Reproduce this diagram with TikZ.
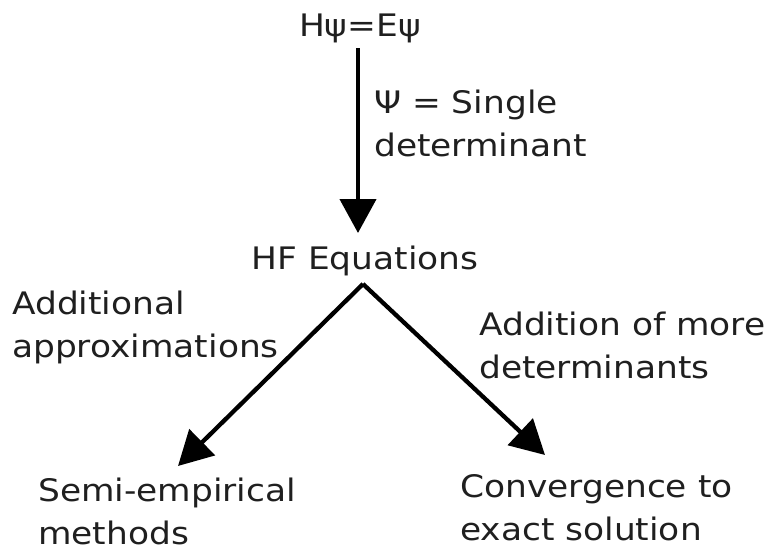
\documentclass[tikz,border=0pt]{standalone}
\usepackage{fontspec}
\setmainfont{DejaVu Sans}[FakeStretch=1.11]
\usetikzlibrary{arrows.meta}
\begin{document}
\begin{tikzpicture}[x=1pt,y=-1pt,
  lbl/.style={inner sep=0pt, font=\fontsize{31}{43}\selectfont, align=left, text=black!88},
  arr/.style={line width=4.3pt, -{Triangle[length=34pt,width=36pt]}}]
\useasboundingbox (0,0) rectangle (764,546);
\clip (0,0) rectangle (764,546);
\node[lbl, anchor=base] (eq) at (360,36) {Hψ=Eψ};
\node[lbl, anchor=base] (hf) at (365,269) {HF Equations};
\node[lbl, anchor=base west] (single) at (374,156) {Ψ = Single\\determinant};
\node[lbl, anchor=base west] (addl) at (12,357) {Additional\\approximations};
\node[lbl, anchor=base west] (more) at (479,378) {Addition of more\\determinants};
\node[lbl, anchor=base west] (semi) at (38,544) {Semi-empirical\\methods};
\node[lbl, anchor=base west] (conv) at (460,540) {Convergence to\\exact solution};
\coordinate (top) at (358,48);
\coordinate (vtip) at (358,233);
\coordinate (apex) at (363,284);
\coordinate (ltip) at (178,466);
\coordinate (rtip) at (545,455);
\draw[arr] (top) -- (vtip);
\draw[arr] (apex) -- (ltip);
\draw[arr] (apex) -- (rtip);
\end{tikzpicture}
\end{document}
